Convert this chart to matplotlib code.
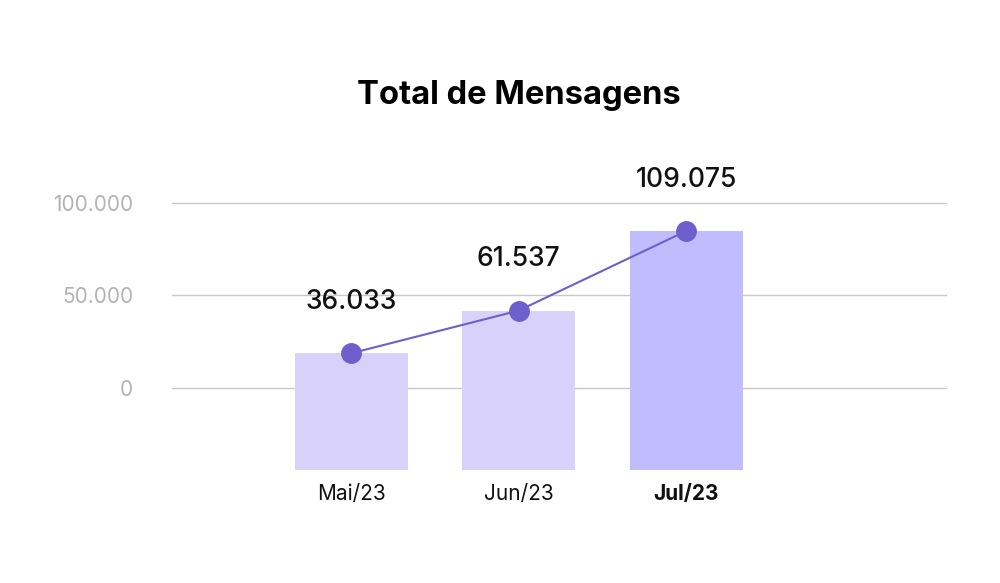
import matplotlib.pyplot as plt
from matplotlib.ticker import FuncFormatter

months = ["Mai/23", "Jun/23", "Jul/23"]
mensagens = [36033, 61537, 109075]
left_ticks = [0, 50000, 100000]


def fmt_br(v, pos=None):
    return f"{int(v):,}".replace(",", ".")


plt.rcParams['font.family'] = ['Inter', 'DejaVu Sans']

fig = plt.figure(figsize=(10, 5.83), dpi=100)
ax = fig.add_axes([0.172, 0.1938, 0.775, 0.549])
ax2 = ax.twinx()

x = list(range(len(months)))

# eixo da esquerda: só grade e rótulos
ax.set_ylim(-44324, 128649)
ax.set_yticks(left_ticks)
ax.yaxis.set_major_formatter(FuncFormatter(fmt_br))
ax.grid(axis='y', color='#c9c9c9', linewidth=1)
ax.set_axisbelow(True)
ax.tick_params(axis='y', length=0, pad=28, labelsize=15, labelcolor='#b3b3b3')

# barras e linha em outra escala
base = -33710
ax2.set_ylim(base, 157560)
cores = ['#d8d2fb', '#d8d2fb', '#c0bcfd']
ax2.bar(x, [v - base for v in mensagens], bottom=base, width=0.675, color=cores, zorder=2)
ax2.plot(x, mensagens, color='#6e5fcc', linewidth=1.5, marker='o', markersize=14, zorder=3)
for xi, v in zip(x, mensagens):
    ax2.annotate(fmt_br(v), (xi, v), xytext=(0, 37), textcoords='offset points',
                 ha='center', va='center', fontsize=19, fontweight='medium', color='#111111')
ax2.set_yticks([])

ax.set_xlim(-1.069, 3.558)
ax.set_xticks(x)
ax.set_xticklabels(months, fontsize=15, color='#111111')
ax.get_xticklabels()[-1].set_fontweight('bold')
ax.tick_params(axis='x', length=0, pad=10)

for a in (ax, ax2):
    for s in a.spines.values():
        s.set_visible(False)

fig.text(0.519, 0.837, "Total de Mensagens", ha='center', va='center',
         fontsize=23.6, fontweight='bold', color='#000000')

fig.savefig("out.png", dpi=100, facecolor='white')
